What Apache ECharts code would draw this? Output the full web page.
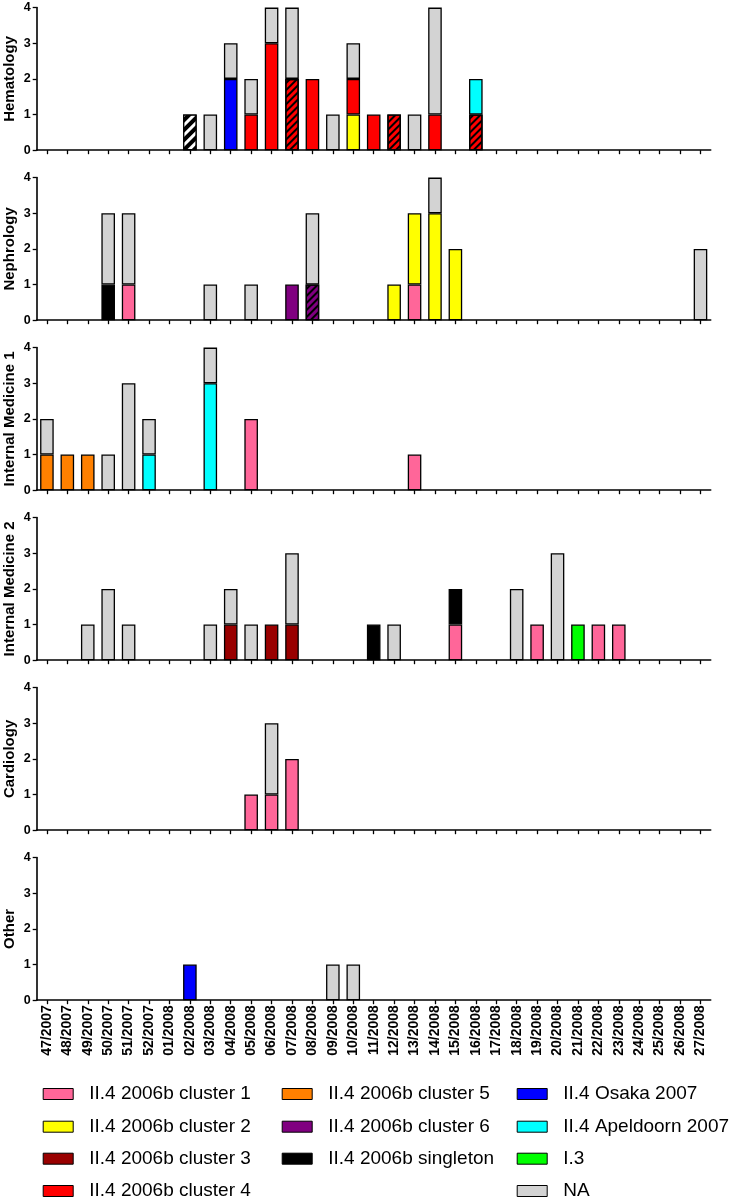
<!DOCTYPE html>
<html>
<head>
<meta charset="utf-8">
<script src="https://cdn.jsdelivr.net/npm/echarts@6/dist/echarts.min.js"></script>
<style>
html,body{margin:0;padding:0;background:#fff;}
#chart{width:737px;height:1200px;}
</style>
</head>
<body>
<div id="chart"></div>
<script>
// ---------- categories ----------
const weeks = ['47/2007','48/2007','49/2007','50/2007','51/2007','52/2007','01/2008','02/2008','03/2008','04/2008',
  '05/2008','06/2008','07/2008','08/2008','09/2008','10/2008','11/2008','12/2008','13/2008','14/2008',
  '15/2008','16/2008','17/2008','18/2008','19/2008','20/2008','21/2008','22/2008','23/2008','24/2008',
  '25/2008','26/2008','27/2008'];

const yTicks = [0, 1, 2, 3, 4];

const genotypeNames = ['II.4 2006b cluster 1','II.4 2006b cluster 2','II.4 2006b cluster 3','II.4 2006b cluster 4',
  'II.4 2006b cluster 5','II.4 2006b cluster 6','II.4 2006b singleton','II.4 Osaka 2007','II.4 Apeldoorn 2007','I.3','NA'];

// ---------- values (index = week) ----------
// Hematology
const hemC2    = [0,0,0,0,0,0,0,0,0,0, 0,0,0,0,0,1,0,0,0,0, 0,0,0,0,0,0,0,0,0,0, 0,0,0];
const hemC4    = [0,0,0,0,0,0,0,0,0,0, 1,3,0,2,0,1,1,0,0,1, 0,0,0,0,0,0,0,0,0,0, 0,0,0];
const hemC4H   = [0,0,0,0,0,0,0,0,0,0, 0,0,2,0,0,0,0,1,0,0, 0,1,0,0,0,0,0,0,0,0, 0,0,0];
const hemSingH = [0,0,0,0,0,0,0,1,0,0, 0,0,0,0,0,0,0,0,0,0, 0,0,0,0,0,0,0,0,0,0, 0,0,0];
const hemOsaka = [0,0,0,0,0,0,0,0,0,2, 0,0,0,0,0,0,0,0,0,0, 0,0,0,0,0,0,0,0,0,0, 0,0,0];
const hemApel  = [0,0,0,0,0,0,0,0,0,0, 0,0,0,0,0,0,0,0,0,0, 0,1,0,0,0,0,0,0,0,0, 0,0,0];
const hemNA    = [0,0,0,0,0,0,0,0,1,1, 1,1,2,0,1,1,0,0,1,3, 0,0,0,0,0,0,0,0,0,0, 0,0,0];
// Nephrology
const nepC1    = [0,0,0,0,1,0,0,0,0,0, 0,0,0,0,0,0,0,0,1,0, 0,0,0,0,0,0,0,0,0,0, 0,0,0];
const nepC2    = [0,0,0,0,0,0,0,0,0,0, 0,0,0,0,0,0,0,1,2,3, 2,0,0,0,0,0,0,0,0,0, 0,0,0];
const nepC6    = [0,0,0,0,0,0,0,0,0,0, 0,0,1,0,0,0,0,0,0,0, 0,0,0,0,0,0,0,0,0,0, 0,0,0];
const nepC6H   = [0,0,0,0,0,0,0,0,0,0, 0,0,0,1,0,0,0,0,0,0, 0,0,0,0,0,0,0,0,0,0, 0,0,0];
const nepSing  = [0,0,0,1,0,0,0,0,0,0, 0,0,0,0,0,0,0,0,0,0, 0,0,0,0,0,0,0,0,0,0, 0,0,0];
const nepNA    = [0,0,0,2,2,0,0,0,1,0, 1,0,0,2,0,0,0,0,0,1, 0,0,0,0,0,0,0,0,0,0, 0,0,2];
// Internal Medicine 1
const im1C1    = [0,0,0,0,0,0,0,0,0,0, 2,0,0,0,0,0,0,0,1,0, 0,0,0,0,0,0,0,0,0,0, 0,0,0];
const im1C5    = [1,1,1,0,0,0,0,0,0,0, 0,0,0,0,0,0,0,0,0,0, 0,0,0,0,0,0,0,0,0,0, 0,0,0];
const im1Apel  = [0,0,0,0,0,1,0,0,3,0, 0,0,0,0,0,0,0,0,0,0, 0,0,0,0,0,0,0,0,0,0, 0,0,0];
const im1NA    = [1,0,0,1,3,1,0,0,1,0, 0,0,0,0,0,0,0,0,0,0, 0,0,0,0,0,0,0,0,0,0, 0,0,0];
// Internal Medicine 2
const im2C1    = [0,0,0,0,0,0,0,0,0,0, 0,0,0,0,0,0,0,0,0,0, 1,0,0,0,1,0,0,1,1,0, 0,0,0];
const im2C3    = [0,0,0,0,0,0,0,0,0,1, 0,1,1,0,0,0,0,0,0,0, 0,0,0,0,0,0,0,0,0,0, 0,0,0];
const im2Sing  = [0,0,0,0,0,0,0,0,0,0, 0,0,0,0,0,0,1,0,0,0, 1,0,0,0,0,0,0,0,0,0, 0,0,0];
const im2I3    = [0,0,0,0,0,0,0,0,0,0, 0,0,0,0,0,0,0,0,0,0, 0,0,0,0,0,0,1,0,0,0, 0,0,0];
const im2NA    = [0,0,1,2,1,0,0,0,1,1, 1,0,2,0,0,0,0,1,0,0, 0,0,0,2,0,3,0,0,0,0, 0,0,0];
// Cardiology
const carC1    = [0,0,0,0,0,0,0,0,0,0, 1,1,2,0,0,0,0,0,0,0, 0,0,0,0,0,0,0,0,0,0, 0,0,0];
const carNA    = [0,0,0,0,0,0,0,0,0,0, 0,2,0,0,0,0,0,0,0,0, 0,0,0,0,0,0,0,0,0,0, 0,0,0];
// Other
const othOsaka = [0,0,0,0,0,0,0,1,0,0, 0,0,0,0,0,0,0,0,0,0, 0,0,0,0,0,0,0,0,0,0, 0,0,0];
const othNA    = [0,0,0,0,0,0,0,0,0,0, 0,0,0,0,1,1,0,0,0,0, 0,0,0,0,0,0,0,0,0,0, 0,0,0];

const panelTitles = ['Hematology','Nephrology','Internal Medicine 1','Internal Medicine 2','Cardiology','Other'];
const panelData = [
  {c2: hemC2, c4: hemC4, c4h: hemC4H, singh: hemSingH, osaka: hemOsaka, apel: hemApel, na: hemNA},
  {c1: nepC1, c2: nepC2, c6: nepC6, c6h: nepC6H, sing: nepSing, na: nepNA},
  {c1: im1C1, c5: im1C5, apel: im1Apel, na: im1NA},
  {c1: im2C1, c3: im2C3, sing: im2Sing, i3: im2I3, na: im2NA},
  {c1: carC1, na: carNA},
  {osaka: othOsaka, na: othNA}
];

// ---------- styles ----------
const hatchRed = {symbol:'rect', symbolSize:1, color:'#000', dashArrayX:[1,0], dashArrayY:[1.3,2.7], rotation:-Math.PI/4};
const hatchBlack = {symbol:'rect', symbolSize:1, color:'#fff', dashArrayX:[1,0], dashArrayY:[2.2,3.6], rotation:-Math.PI/4};
const hatchPurple = {symbol:'rect', symbolSize:1, color:'#000', dashArrayX:[1,0], dashArrayY:[1.3,2.7], rotation:-Math.PI/4};

// stack order bottom -> top
const seriesDefs = [
  {key:'c1', name:genotypeNames[0], color:'#FF6699'},
  {key:'c2', name:genotypeNames[1], color:'#FFFF00'},
  {key:'c3', name:genotypeNames[2], color:'#990000'},
  {key:'c4', name:genotypeNames[3], color:'#FF0000'},
  {key:'c4h', name:'II.4 2006b cluster 4 (hatched)', color:'#FF0000', decal:hatchRed},
  {key:'c5', name:genotypeNames[4], color:'#FF8000'},
  {key:'c6', name:genotypeNames[5], color:'#800080'},
  {key:'c6h', name:'II.4 2006b cluster 6 (hatched)', color:'#800080', decal:hatchPurple},
  {key:'sing', name:genotypeNames[6], color:'#000000'},
  {key:'singh', name:'II.4 2006b singleton (hatched)', color:'#000000', decal:hatchBlack},
  {key:'osaka', name:genotypeNames[7], color:'#0000FF'},
  {key:'apel', name:genotypeNames[8], color:'#00FFFF'},
  {key:'i3', name:genotypeNames[9], color:'#00FF00'},
  {key:'na', name:genotypeNames[10], color:'#D3D3D3'}
];

const FONT = '"Liberation Sans", Arial, sans-serif';
const gridLeft = 36.7, gridRight = 26.3;
const grids = [], xAxes = [], yAxes = [], series = [];

panelTitles.forEach((title, p) => {
  const bottomY = 150.2 + 170 * p;
  const h = 142.6;
  grids.push({left: gridLeft, right: gridRight, top: bottomY - h, height: h, containLabel: false, outerBoundsMode: 'none'});
  const last = p === panelTitles.length - 1;
  xAxes.push({
    type: 'category', gridIndex: p, data: weeks, boundaryGap: true,
    axisLine: {show: true, lineStyle: {color: '#000', width: 1.6}},
    axisTick: {show: true, alignWithLabel: true, length: 4, lineStyle: {color: '#000', width: 1.3}},
    axisLabel: {show: last, rotate: 90, interval: 0, margin: 5, color: '#000', fontWeight: 'bold', fontSize: 14, fontFamily: FONT},
    splitLine: {show: false}
  });
  yAxes.push({
    type: 'value', gridIndex: p, min: yTicks[0], max: yTicks[yTicks.length - 1], interval: 1,
    name: title, nameLocation: 'middle', nameGap: 19, nameMoveOverlap: false,
    nameTextStyle: {color: '#000', fontWeight: 'bold', fontSize: 15, fontFamily: FONT},
    axisLine: {show: true, lineStyle: {color: '#000', width: 1.6}},
    axisTick: {show: true, length: 4, lineStyle: {color: '#000', width: 1.3}},
    axisLabel: {color: '#000', fontWeight: 'bold', fontSize: 12.5, margin: 6, fontFamily: FONT},
    splitLine: {show: false}
  });
  const d = panelData[p];
  seriesDefs.forEach(def => {
    const arr = d[def.key];
    if (!arr) return;
    const itemStyle = {color: def.color, borderColor: '#000', borderWidth: 1.3};
    if (def.decal) itemStyle.decal = def.decal;
    series.push({
      type: 'bar', name: def.name, xAxisIndex: p, yAxisIndex: p, stack: 'panel' + p,
      barWidth: 13.6, animation: false,
      data: arr.map(v => v > 0 ? v : '-'),
      itemStyle: itemStyle,
      emphasis: {disabled: true}
    });
  });
});

// legend: 3 columns x 4 rows, one legend component per entry
const legendColX = [42.7, 281.7, 516.7];
const legendRowY = [1094, 1126.7, 1158.7, 1191];
const legendCell = [[0,0],[0,1],[0,2],[0,3],[1,0],[1,1],[1,2],[2,0],[2,1],[2,2],[2,3]];
const legends = genotypeNames.map((nm, i) => ({
  orient: 'horizontal', left: legendColX[legendCell[i][0]], top: legendRowY[legendCell[i][1]] - 10,
  padding: 0, icon: 'rect', itemWidth: 30, itemHeight: 11,
  selectedMode: false, data: [nm],
  itemStyle: {borderColor: '#000', borderWidth: 1},
  textStyle: {color: '#000', fontSize: 19, fontFamily: FONT, lineHeight: 20, padding: [0, 0, 0, 11]}
}));

const option = {
  backgroundColor: '#fff',
  animation: false,
  grid: grids,
  xAxis: xAxes,
  yAxis: yAxes,
  legend: legends,
  series: series
};

const chart = echarts.init(document.getElementById('chart'), null, {renderer: 'canvas'});
chart.setOption(option);
</script>
</body>
</html>
